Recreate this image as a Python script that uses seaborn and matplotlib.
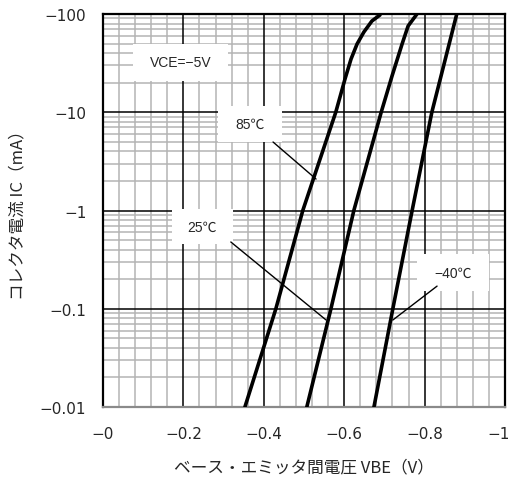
import numpy as np
import pandas as pd
import matplotlib
matplotlib.use("Agg")
import matplotlib.pyplot as plt
import matplotlib.transforms as mtransforms
import seaborn as sns
from matplotlib.patches import Rectangle
from matplotlib.ticker import FixedLocator, LogLocator, NullFormatter

# Collector current IC (mA, magnitude) vs base-emitter voltage VBE (V, magnitude)
ic_85 = [0.01, 0.1, 1, 10, 21.8, 34.8, 49.5, 65.6, 84.9, 97.7]
vbe_85 = [0.353, 0.430, 0.497, 0.579, 0.602, 0.617, 0.632, 0.649, 0.669, 0.689]

ic_25 = [0.01, 0.1, 1, 10, 23.4, 49.5, 75.5, 100]
vbe_25 = [0.507, 0.567, 0.624, 0.692, 0.719, 0.744, 0.759, 0.781]

ic_m40 = [0.01, 0.1, 1, 10, 100]
vbe_m40 = [0.674, 0.721, 0.769, 0.818, 0.880]

x_ticks = [0, 0.2, 0.4, 0.6, 0.8, 1.0]
x_tick_labels = ["\u22120", "\u22120.2", "\u22120.4", "\u22120.6", "\u22120.8", "\u22121"]
x_minor = [0.04, 0.08, 0.12, 0.16, 0.24, 0.28, 0.32, 0.36, 0.44, 0.48, 0.52, 0.56,
           0.64, 0.68, 0.72, 0.76, 0.84, 0.88, 0.92, 0.96]
y_ticks = [0.01, 0.1, 1, 10, 100]
y_tick_labels = ["\u22120.01", "\u22120.1", "\u22121", "\u221210", "\u2212100"]

sns.set_style("white")
plt.rcParams['font.family'] = ['Noto Sans CJK JP', 'DejaVu Sans']
tick_font = ['DejaVu Sans']
note_font = ['Liberation Sans', 'Noto Sans CJK JP']

fig = plt.figure(figsize=(5.12, 4.85), dpi=100)
ax = fig.add_axes([103 / 512, 1 - 408 / 485, 402 / 512, 393 / 485])

for ic, vbe in [(ic_85, vbe_85), (ic_25, vbe_25), (ic_m40, vbe_m40)]:
    df = pd.DataFrame({'VBE': vbe, 'IC': ic})
    sns.lineplot(data=df, x='VBE', y='IC', ax=ax, sort=False, color='black',
                 linewidth=2.6, zorder=5)

ax.set_yscale('log')
ax.set_xlim(0, 1)
ax.set_ylim(0.01, 100)

ax.xaxis.set_major_locator(FixedLocator(x_ticks))
ax.set_xticklabels(x_tick_labels, family=tick_font)
ax.xaxis.set_minor_locator(FixedLocator(x_minor))
ax.yaxis.set_major_locator(FixedLocator(y_ticks))
ax.set_yticklabels(y_tick_labels, family=tick_font)
ax.yaxis.set_minor_locator(LogLocator(base=10, subs=np.arange(2, 10), numticks=20))
ax.yaxis.set_minor_formatter(NullFormatter())

# gray minor grid from the axes, black major lines drawn on top of it
ax.grid(which='minor', color='#b4b4b4', linewidth=1.1, linestyle='-')
ax.set_axisbelow(True)
for xv in x_ticks[1:-1]:
    ax.axvline(xv, color='black', linewidth=1.1, zorder=1.5)
for yv in y_ticks[1:-1]:
    ax.axhline(yv, color='black', linewidth=1.1, zorder=1.5)

ax.tick_params(which='both', length=0, labelsize=11)
ax.tick_params(axis='y', pad=12)
ax.tick_params(axis='x', pad=14)

# keep the last x label inside the figure
last = ax.get_xticklabels()[-1]
last.set_transform(last.get_transform() + mtransforms.ScaledTranslation(-6 / 100, 0, fig.dpi_scale_trans))

for side in ['top', 'left', 'right']:
    ax.spines[side].set_color('black')
    ax.spines[side].set_linewidth(1.6)
ax.spines['bottom'].set_color('#8a8a8a')
ax.spines['bottom'].set_linewidth(1.6)

ax.set_xlabel("ベース・エミッタ間電圧 VBE（V）", fontsize=12, labelpad=12)
ax.set_ylabel("コレクタ電流 IC（mA）", fontsize=12, labelpad=10)

# White label boxes (axes fraction) with their texts
boxes = [
    ((0.075, 0.830), 0.236, 0.094, "VCE=\u22125V"),
    ((0.286, 0.674), 0.159, 0.092, "85℃"),
    ((0.172, 0.415), 0.151, 0.089, "25℃"),
    ((0.781, 0.295), 0.179, 0.094, "\u221240℃"),
]
for (bx, by), bw, bh, label in boxes:
    ax.add_patch(Rectangle((bx, by), bw, bh, transform=ax.transAxes,
                           facecolor='white', edgecolor='none', zorder=6))
    ax.text(bx + bw / 2, by + bh / 2, label, transform=ax.transAxes, fontsize=10,
            family=note_font, ha='center', va='center', zorder=7)

# Leader lines
ax.plot([0.423, 0.530], [4.98, 2.09], color='black', linewidth=1.0, zorder=7)
ax.plot([0.318, 0.555], [0.478, 0.0768], color='black', linewidth=1.0, zorder=7)
ax.plot([0.831, 0.721], [0.17, 0.0768], color='black', linewidth=1.0, zorder=7)

fig.savefig("out.png", dpi=100)
